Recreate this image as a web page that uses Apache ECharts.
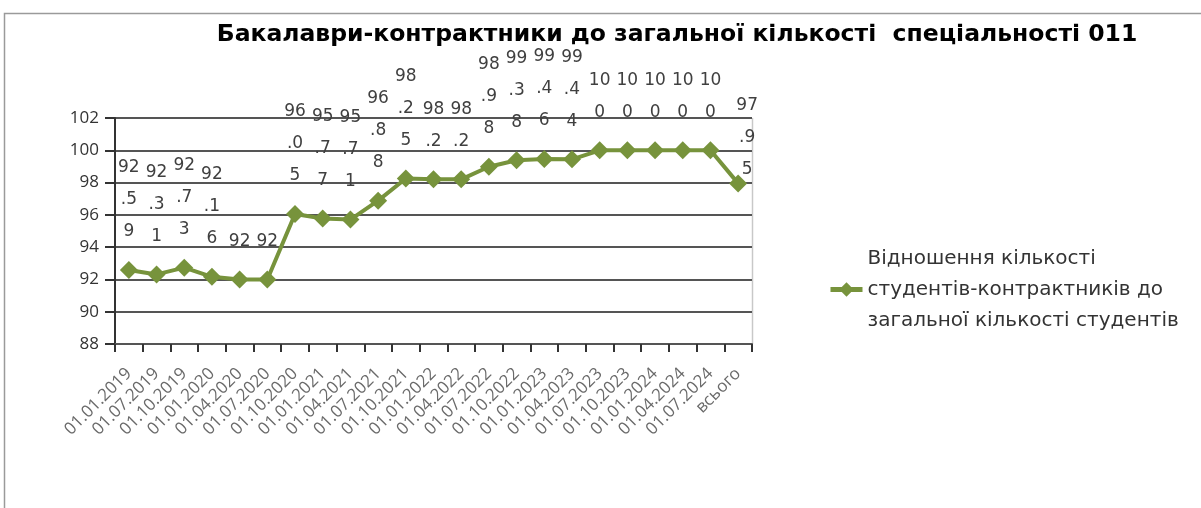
<!DOCTYPE html>
<html>
<head>
<meta charset="utf-8">
<style>
  html, body { margin: 0; padding: 0; background: #fff; }
  #chart { width: 1201px; height: 508px; }
</style>
<script src="https://cdn.jsdelivr.net/npm/echarts@6/dist/echarts.min.js"></script>
</head>
<body>
<div id="chart"></div>
<script>
const categories = [
  '01.01.2019', '01.07.2019', '01.10.2019', '01.01.2020', '01.04.2020', '01.07.2020',
  '01.10.2020', '01.01.2021', '01.04.2021', '01.07.2021', '01.10.2021', '01.01.2022',
  '01.04.2022', '01.07.2022', '01.10.2022', '01.01.2023', '01.04.2023', '01.07.2023',
  '01.10.2023', '01.01.2024', '01.04.2024', '01.07.2024', 'всього'
]
const ratioValues = [
  92.59, 92.31, 92.73, 92.16, 92, 92, 96.05, 95.77, 95.71, 96.88, 98.25, 98.2,
  98.2, 98.98, 99.38, 99.46, 99.44, 100, 100, 100, 100, 100, 97.95
]
const yTicks = { min: 88, max: 102, step: 2 }
const seriesName = 'Відношення кількості\nстудентів-контрактників до\nзагальної кількості студентів'

const chart = echarts.init(document.getElementById('chart'))

// мітки переносяться по 2 символи, як в оригіналі
function wrapLabel(v) {
  const s = String(v)
  const parts = []
  for (let i = 0; i < s.length; i += 2) parts.push(s.slice(i, i + 2))
  return parts.join('\n')
}

const seriesData = ratioValues.map((v, i) => {
  if (i === ratioValues.length - 1) {
    return { value: v, label: { offset: [9, 24] } }
  }
  return v
})

const option = {
  animation: false,
  title: {
    text: 'Бакалаври-контрактники до загальної кількості  спеціальності 011',
    left: 672,
    textAlign: 'center',
    top: 18,
    textStyle: {
      fontFamily: 'DejaVu Sans',
      fontSize: 23.5,
      fontWeight: 'bold',
      color: '#000'
    }
  },
  graphic: [{
    type: 'polyline',
    shape: { points: [[4.5, 520], [4.5, 13.5], [1210, 13.5]] },
    style: { stroke: '#9a9a9a', lineWidth: 1.5, fill: null }
  }, {
    // права межа області побудови
    type: 'line',
    shape: { x1: 752.5, y1: 118, x2: 752.5, y2: 344 },
    style: { stroke: '#c8c8c8', lineWidth: 1.5 }
  }],
  legend: {
    left: 828,
    top: 243,
    padding: 0,
    orient: 'vertical',
    itemWidth: 32,
    itemHeight: 18,
    lineStyle: { width: 5 },
    textStyle: {
      fontFamily: 'DejaVu Sans',
      fontSize: 20,
      color: '#333',
      lineHeight: 31
    }
  },
  grid: {
    left: 115,
    right: 449,
    top: 118,
    bottom: 164
  },
  xAxis: {
    type: 'category',
    data: categories,
    boundaryGap: true,
    axisLine: { lineStyle: { color: '#555', width: 2 } },
    axisTick: { show: true, length: 8, lineStyle: { color: '#333', width: 2 } },
    axisLabel: {
      interval: 0,
      rotate: 45,
      margin: 27,
      fontFamily: 'Open Sans',
      fontSize: 17,
      color: '#6a6a6a'
    },
    splitLine: { show: false }
  },
  yAxis: {
    type: 'value',
    min: yTicks.min,
    max: yTicks.max,
    interval: yTicks.step,
    axisLine: { show: true, lineStyle: { color: '#333', width: 2 } },
    axisTick: { show: true, length: 10, lineStyle: { color: '#333', width: 2 } },
    axisLabel: {
      fontFamily: 'Open Sans',
      fontSize: 17,
      color: '#333',
      margin: 16
    },
    splitLine: { lineStyle: { color: '#555', width: 2 } }
  },
  series: [{
    name: seriesName,
    type: 'line',
    data: seriesData,
    symbol: 'diamond',
    symbolSize: 18,
    lineStyle: { color: '#77933C', width: 4 },
    itemStyle: { color: '#77933C' },
    label: {
      show: true,
      position: 'top',
      distance: 13,
      formatter: p => wrapLabel(p.value),
      fontFamily: 'DejaVu Sans',
      fontSize: 17,
      lineHeight: 32,
      color: '#404040'
    },
    z: 3
  }]
}

chart.setOption(option)
</script>
</body>
</html>
